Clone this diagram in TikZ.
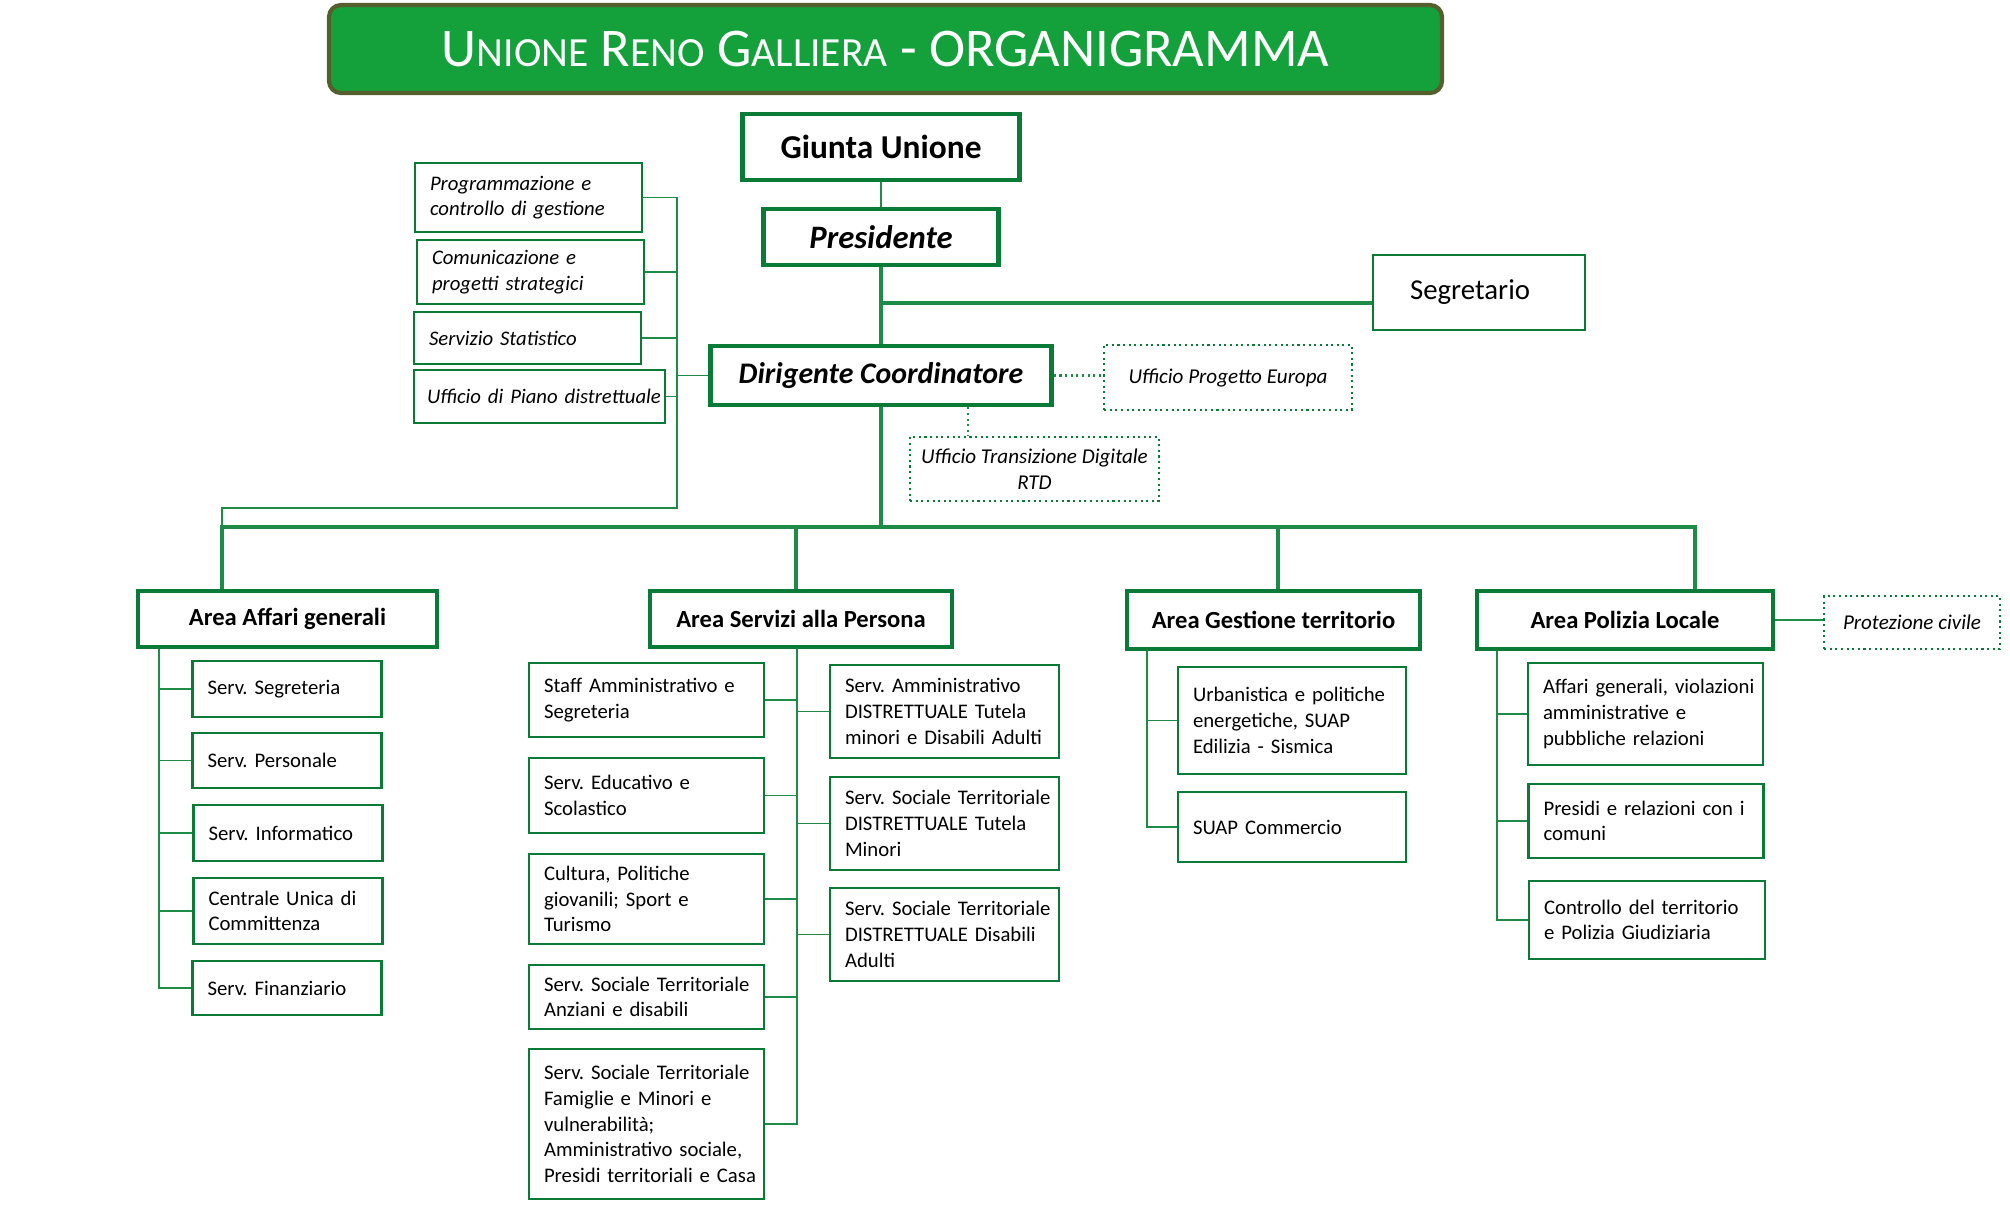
\documentclass[tikz,border=0pt]{standalone}
\usepackage{fontspec}
\setmainfont{Carlito}
\frenchspacing
\hyphenpenalty=10000
\definecolor{orgGreen}{RGB}{10,122,55}
\definecolor{lineGreen}{RGB}{30,140,70}
\definecolor{bannerGreen}{RGB}{20,161,60}
\definecolor{bannerRim}{RGB}{85,95,45}
\newcommand{\capsc}[2]{#1{\fontsize{11.8}{12}\selectfont #2}}

\begin{document}
\begin{tikzpicture}[
    head/.style={draw=orgGreen, line width=1.3pt, inner sep=0pt},
    unit/.style={draw=orgGreen, line width=0.7pt, inner xsep=0.15cm, inner ysep=0pt, align=left, font=\fontsize{5.9}{7.3}\selectfont},
    staff/.style={unit, font=\fontsize{5.9}{7.3}\selectfont\itshape},
    aux/.style={draw=orgGreen, line width=0.6pt, densely dotted, inner sep=0pt, align=center, font=\fontsize{6}{7.3}\selectfont\itshape},
    link/.style={draw=lineGreen, line width=0.55pt},
    trunk/.style={draw=lineGreen, line width=0.9pt},
    dotlink/.style={draw=lineGreen, line width=0.6pt, densely dotted}
]
    \useasboundingbox (0,0) rectangle (20.10,-12.09);
    % Title banner
    \node[draw=bannerRim, line width=1.2pt, fill=bannerGreen, rounded corners=0.12cm, minimum width=11.13cm, minimum height=0.88cm, text=white, inner sep=0pt]
        (title) at (8.855,-0.49) {\fontsize{15.5}{17}\selectfont\capsc{U}{NIONE} \capsc{R}{ENO} \capsc{G}{ALLIERA} - ORGANIGRAMMA};
    % Top of the organisation
    \node[head, minimum width=2.77cm, minimum height=0.66cm, font=\fontsize{9.5}{11}\selectfont\bfseries]
        (giunta) at (8.81,-1.47) {Giunta Unione};
    \node[head, minimum width=2.35cm, minimum height=0.56cm, font=\fontsize{9.3}{11}\selectfont\bfseries\itshape]
        (pres) at (8.81,-2.37) {Presidente};
    \node[draw=orgGreen, line width=0.8pt, minimum width=2.12cm, minimum height=0.75cm, inner sep=0pt, font=\fontsize{8.2}{10}\selectfont]
        (segr) at (14.79,-2.925) {Segretario\kern0.18cm\relax};
    \node[head, minimum width=3.41cm, minimum height=0.59cm, font=\fontsize{8.5}{10}\selectfont\bfseries\itshape]
        (dir) at (8.81,-3.755) {Dirigente Coordinatore};
    \node[aux, minimum width=2.48cm, minimum height=0.65cm]
        (euro) at (12.28,-3.775) {Ufficio Progetto Europa};
    \node[aux, minimum width=2.49cm, minimum height=0.64cm]
        (rtd) at (10.345,-4.69) {Ufficio Transizione Digitale\\RTD};
    % Staff offices
    \node[staff, text width=1.97cm, minimum height=0.69cm] (progr) at (5.285,-1.975) {Programmazione e\\controllo~di~gestione};
    \node[staff, text width=1.97cm, minimum height=0.64cm] (comun) at (5.305,-2.72) {Comunicazione e\\progetti strategici};
    \node[staff, text width=1.97cm, minimum height=0.52cm] (stat) at (5.275,-3.38) {Servizio Statistico};
    \node[staff, text width=2.25cm, inner xsep=0.13cm, minimum height=0.53cm] (piano) at (5.395,-3.965) {Ufficio~di~Piano~distrettuale};
    % Areas
    \node[head, minimum width=2.99cm, minimum height=0.56cm, font=\fontsize{7}{8}\selectfont\bfseries]
        (affari) at (2.875,-6.19) {Area Affari generali};
    \node[head, minimum width=3.02cm, minimum height=0.56cm, font=\fontsize{7}{8}\selectfont\bfseries]
        (servizi) at (8.01,-6.19) {Area Servizi alla Persona};
    \node[head, minimum width=2.93cm, minimum height=0.58cm, font=\fontsize{7}{8}\selectfont\bfseries]
        (gestione) at (12.735,-6.20) {Area Gestione territorio};
    \node[head, minimum width=2.96cm, minimum height=0.58cm, font=\fontsize{7}{8}\selectfont\bfseries]
        (polizia) at (16.25,-6.20) {Area Polizia Locale};
    \node[aux, minimum width=1.76cm, minimum height=0.53cm]
        (protez) at (19.12,-6.225) {Protezione civile};
    % Area Affari generali
    \node[unit, text width=1.59cm, minimum height=0.56cm] (segret) at (2.87,-6.89) {Serv. Segreteria};
    \node[unit, text width=1.59cm, minimum height=0.55cm] (person) at (2.87,-7.605) {Serv. Personale};
    \node[unit, text width=1.59cm, minimum height=0.56cm] (inform) at (2.88,-8.33) {Serv.~Informatico};
    \node[unit, text width=1.59cm, minimum height=0.66cm] (cuc) at (2.88,-9.11) {Centrale~Unica~di\\Committenza};
    \node[unit, text width=1.59cm, minimum height=0.54cm] (finanz) at (2.87,-9.88) {Serv.~Finanziario};
    % Area Servizi alla Persona
    \node[unit, text width=2.05cm, minimum height=0.74cm] (p1) at (6.465,-7.00) {Staff~Amministrativo~e\\Segreteria};
    \node[unit, text width=2.05cm, minimum height=0.75cm] (p2) at (6.465,-7.955) {Serv. Educativo e\\Scolastico};
    \node[unit, text width=2.05cm, minimum height=0.90cm] (p3) at (6.465,-8.99) {Cultura, Politiche\\giovanili; Sport e\\Turismo};
    \node[unit, text width=2.05cm, minimum height=0.64cm] (p4) at (6.465,-9.97) {Serv.~Sociale~Territoriale\\Anziani e disabili};
    \node[unit, text width=2.05cm, minimum height=1.50cm] (p5) at (6.465,-11.24) {Serv.~Sociale~Territoriale\\Famiglie e Minori e\\vulnerabilità;\\Amministrativo~sociale,\\Presidi~territoriali~e~Casa};
    \node[unit, text width=1.99cm, minimum height=0.93cm] (q1) at (9.445,-7.115) {Serv.~Amministrativo\\DISTRETTUALE~Tutela\\minori~e~Disabili~Adulti};
    \node[unit, text width=1.99cm, minimum height=0.93cm] (q2) at (9.445,-8.235) {Serv.~Sociale~Territoriale\\DISTRETTUALE~Tutela\\Minori};
    \node[unit, text width=1.99cm, minimum height=0.93cm] (q3) at (9.445,-9.345) {Serv.~Sociale~Territoriale\\DISTRETTUALE~Disabili\\Adulti};
    % Area Gestione territorio
    \node[unit, text width=1.98cm, minimum height=1.07cm] (g1) at (12.92,-7.205) {Urbanistica~e~politiche\\energetiche, SUAP\\Edilizia - Sismica};
    \node[unit, text width=1.98cm, minimum height=0.70cm] (g2) at (12.92,-8.27) {SUAP Commercio};
    % Area Polizia Locale
    \node[unit, text width=2.05cm, minimum height=1.02cm] (l1) at (16.455,-7.14) {Affari~generali,~violazioni\\amministrative e\\pubbliche relazioni};
    \node[unit, text width=2.05cm, minimum height=0.74cm] (l2) at (16.46,-8.21) {Presidi~e~relazioni~con~i\\comuni};
    \node[unit, text width=2.06cm, minimum height=0.78cm] (l3) at (16.47,-9.20) {Controllo~del~territorio\\e~Polizia~Giudiziaria};
    % Bus points
    \coordinate (segj) at (8.81,-3.03);
    \coordinate (rtdx) at (9.68,0);
    \coordinate (sbtop) at (6.77,-1.975);
    \coordinate (sbbot) at (6.77,-5.08);
    \coordinate (busl) at (2.22,-5.27);
    \coordinate (busr) at (16.95,-5.27);
    \coordinate (abus) at (1.59,0);
    \coordinate (pbus) at (7.97,0);
    \coordinate (gbus) at (11.47,0);
    \coordinate (lbus) at (14.97,0);
    % Lines
    \draw[link] (giunta) -- (pres);
    \draw[trunk] (pres) -- (dir);
    \draw[trunk] (segj) -- (segj -| segr.west);
    \draw[dotlink] (dir.east) -- (dir.east -| euro.west);
    \draw[dotlink] (dir.south -| rtdx) -- (rtd.north -| rtdx);
    \draw[link] (progr.east) -- (sbtop) -- (sbbot) -- (sbbot -| busl) -- (busl);
    \foreach \n in {comun,stat,piano}
        \draw[link] (\n.east) -- (\n.east -| sbtop);
    \draw[link] (dir.west) -- (dir.west -| sbtop);
    \draw[trunk] (dir.south) -- (dir.south |- busl);
    \draw[trunk] (affari.north -| busl) -- (busl) -- (busr) -- (polizia.north -| busr);
    \foreach \a/\x in {servizi/7.96, gestione/12.78}
        \draw[trunk] (\x,-5.27) -- (\a.north -| \x,0);
    \draw[link] (polizia.east) -- (polizia.east -| protez.west);
    % Sub-units
    \draw[link] (affari.south -| abus) -- (finanz.west -| abus) -- (finanz.west);
    \foreach \n in {segret,person,inform,cuc}
        \draw[link] (\n.west) -- (\n.west -| abus);
    \draw[link] (servizi.south -| pbus) -- (p5.east -| pbus) -- (p5.east);
    \foreach \n in {p1,p2,p3,p4}
        \draw[link] (\n.east) -- (\n.east -| pbus);
    \foreach \n in {q1,q2,q3}
        \draw[link] (\n.west) -- (\n.west -| pbus);
    \draw[link] (gestione.south -| gbus) -- (g2.west -| gbus) -- (g2.west);
    \draw[link] (g1.west) -- (g1.west -| gbus);
    \draw[link] (polizia.south -| lbus) -- (l3.west -| lbus) -- (l3.west);
    \foreach \n in {l1,l2}
        \draw[link] (\n.west) -- (\n.west -| lbus);
\end{tikzpicture}
\end{document}
